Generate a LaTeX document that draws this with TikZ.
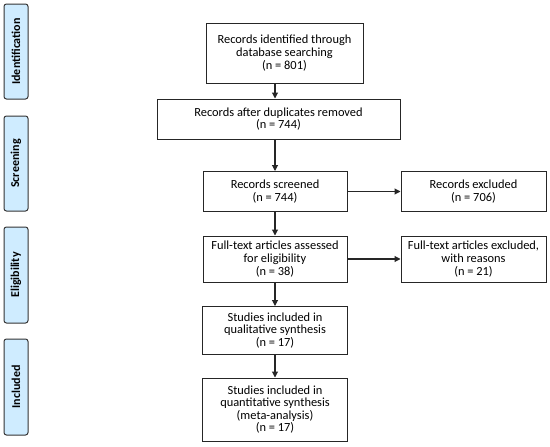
\documentclass[tikz,border=0pt]{standalone}
\usepackage{fontspec}
\setmainfont{Carlito}
\usetikzlibrary{arrows.meta}
\definecolor{phase}{RGB}{207,236,255}
\begin{document}
\begin{tikzpicture}[x=1pt,y=-1pt,
  box/.style={draw=black!85,line width=1pt,align=center,inner sep=0pt,font=\fontsize{12.4}{12.6}\selectfont},
  phasebox/.style={draw=black!80,line width=1pt,fill=phase,rounded corners=2.5pt,inner sep=0pt},
  plabel/.style={rotate=90,font=\fontsize{12}{13}\selectfont\bfseries},
  arr/.style={-{Triangle[length=6pt,width=6pt]},line width=1.1pt,black!85}]
\useasboundingbox (0,0) rectangle (550,447);
% phase boxes
\node[phasebox,minimum width=24pt,minimum height=95pt] (p1) at (16,51.5) {};
\node[plabel] at (p1) {Identification};
\node[phasebox,minimum width=24pt,minimum height=95pt] (p2) at (16,163.5) {};
\node[plabel] at (p2) {Screening};
\node[phasebox,minimum width=24pt,minimum height=96pt] (p3) at (16,275) {};
\node[plabel] at (p3) {Eligibility};
\node[phasebox,minimum width=24pt,minimum height=96pt] (p4) at (16,387) {};
\node[plabel] at (p4) {Included};
% main boxes
\node[box,minimum width=157pt,minimum height=60pt] (b1) at (284.5,53) {Records identified through\\database searching\\(n = 801)};
\node[box,minimum width=243pt,minimum height=40pt] (b2) at (278.5,119) {Records after duplicates removed\\(n = 744)};
\node[box,minimum width=144pt,minimum height=40pt] (b3) at (275,191.5) {Records screened\\(n = 744)};
\node[box,minimum width=145pt,minimum height=40pt] (b3r) at (473.5,191.5) {Records excluded\\(n = 706)};
\node[box,minimum width=144pt,minimum height=46pt] (b4) at (275,259) {Full-text articles assessed\\for eligibility\\(n = 38)};
\node[box,minimum width=145pt,minimum height=46pt] (b4r) at (473.5,259) {Full-text articles excluded,\\with reasons\\(n = 21)};
\node[box,minimum width=145pt,minimum height=48pt] (b5) at (275,330.5) {Studies included in\\qualitative synthesis\\(n = 17)};
\node[box,minimum width=145pt,minimum height=63pt] (b6) at (275,409.5) {Studies included in\\quantitative synthesis\\(meta-analysis)\\(n = 17)};
% arrows
\draw[arr] (b1.south -| 275,0) -- (b2.north -| 275,0);
\draw[arr] (b2.south -| 275,0) -- (b3.north);
\draw[arr] (b3.south) -- (b4.north);
\draw[arr] (b4.south) -- (b5.north);
\draw[arr] (b5.south) -- (b6.north);
\draw[arr] (b3.east) -- (b3r.west);
\draw[arr] (b4.east) -- (b4r.west);
\end{tikzpicture}
\end{document}
